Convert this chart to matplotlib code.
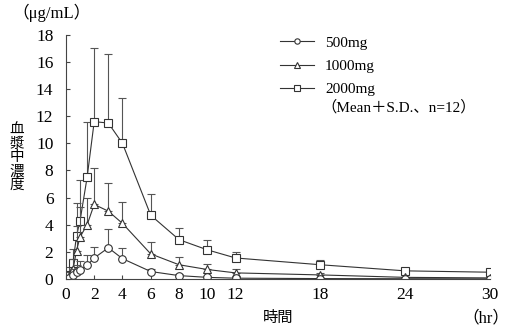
import matplotlib.pyplot as plt
import numpy as np

plt.rcParams['font.family'] = ['Liberation Serif', 'Noto Sans CJK JP']

# data
hours = [0, 0.25, 0.5, 0.75, 1, 1.5, 2, 3, 4, 6, 8, 10, 12, 18, 24, 30]

mean_500 = [0, 0.1, 0.3, 0.5, 0.65, 1.0, 1.55, 2.3, 1.5, 0.55, 0.25, 0.12, 0.06, 0.03, 0.02, 0.01]
sd_500 = [0, 0.15, 0.4, 0.55, 0.65, 0.75, 0.8, 1.4, 0.75, 0.2, 0.15, 0.07, 0.04, 0.02, 0.01, 0.01]

mean_1000 = [0, 0.2, 0.7, 2.1, 3.1, 4.0, 5.5, 5.0, 4.1, 1.85, 1.05, 0.7, 0.45, 0.3, 0.12, 0.08]
sd_1000 = [0, 0.3, 0.8, 1.8, 2.2, 2.0, 2.7, 2.1, 1.6, 0.9, 0.6, 0.4, 0.3, 0.15, 0.05, 0.05]

mean_2000 = [0, 0.3, 1.2, 3.2, 4.3, 7.5, 11.6, 11.5, 10.0, 4.7, 2.9, 2.15, 1.55, 1.05, 0.6, 0.5]
sd_2000 = [0, 0.6, 1.0, 2.4, 3.0, 4.1, 5.4, 5.1, 3.35, 1.6, 0.85, 0.7, 0.45, 0.35, 0.15, 0.15]

xticks = [0, 2, 4, 6, 8, 10, 12, 18, 24, 30]
yticks = [0, 2, 4, 6, 8, 10, 12, 14, 16, 18]

fig = plt.figure(figsize=(5.11, 3.29), dpi=100)
ax = fig.add_axes([0.129, 0.152, 0.830, 0.742])

col = '#333333'
series = [
    (mean_2000, sd_2000, 's', '2000mg'),
    (mean_1000, sd_1000, '^', '1000mg'),
    (mean_500, sd_500, 'o', '500mg'),
]
handles = {}
for m, s, mk, lab in series:
    m = np.array(m)
    s = np.array(s)
    ax.errorbar(hours, m, yerr=[np.zeros_like(s), s], fmt='none',
                ecolor='#555555', elinewidth=0.8, capsize=3, capthick=0.8)
    h, = ax.plot(hours, m, color=col, lw=0.8, marker=mk, ms=5.5,
                 mfc='white', mec=col, mew=0.8, label=lab)
    handles[lab] = h

ax.set_xlim(0, 30)
ax.set_ylim(0, 18)
ax.set_xticks(xticks)
ax.set_yticks(yticks)
ax.spines['top'].set_visible(False)
ax.spines['right'].set_visible(False)
for sp in ['left', 'bottom']:
    ax.spines[sp].set_color('#444444')
    ax.spines[sp].set_linewidth(0.8)
ax.tick_params(direction='in', length=3, width=0.8, colors='#444444',
               labelcolor='black', labelsize=12.5)
ax.tick_params(axis='y', pad=9)
ax.tick_params(axis='x', pad=6)
for lbl in ax.get_xticklabels() + ax.get_yticklabels():
    lbl.set_clip_on(False)

leg = ax.legend([handles['500mg'], handles['1000mg'], handles['2000mg']],
                ['500mg', '1000mg', '2000mg'],
                loc='upper left', bbox_to_anchor=(280 / 511, 1 - 36 / 329),
                bbox_transform=fig.transFigure, frameon=False,
                borderpad=0, borderaxespad=0,
                fontsize=11, handlelength=2.2, markerscale=0.7,
                labelspacing=0.62, handletextpad=0.75)

fig.text(321 / 511, 1 - 107 / 329, '（Mean＋S.D.、n=12）', fontsize=11,
         ha='left', va='center')
fig.text(12 / 511, 1 - 13 / 329, '（μg/mL）', fontsize=12, ha='left', va='center')
fig.text(17 / 511, 1 - 158 / 329, '\n'.join('血漿中濃度'), fontsize=10.5,
         ha='center', va='center', linespacing=1.05)
fig.text(278 / 511, 1 - 318 / 329, '時間', fontsize=11, ha='center', va='center')
fig.text(509 / 511, 1 - 318 / 329, '（hr）', fontsize=12, ha='right', va='center')

fig.savefig('out.png', dpi=100)
